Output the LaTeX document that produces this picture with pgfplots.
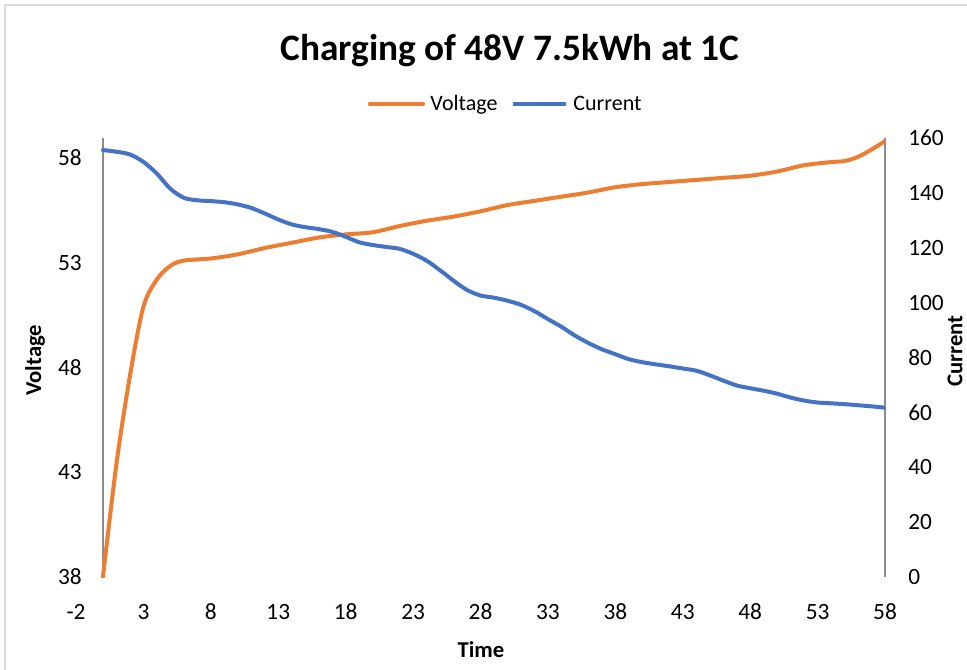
\documentclass[border=0pt]{standalone}
\usepackage{fontspec}
\setmainfont{Carlito}
\usepackage{pgfplots}
\pgfplotsset{compat=1.18}
\definecolor{vcol}{HTML}{ED7D31}
\definecolor{ccol}{HTML}{4472C4}
\definecolor{axgray}{HTML}{8C8C8C}
\definecolor{bordergray}{HTML}{D9D9D9}
\newcommand{\tickfont}{\fontsize{17.5}{20}\selectfont}
\begin{document}
\begin{tikzpicture}
\useasboundingbox (0,0) rectangle (725.25pt,-502.5pt);
\draw[bordergray, line width=1.2pt] (3.75pt,-502.5pt) -- (3.75pt,-3.75pt) -- (725.25pt,-3.75pt);
\begin{axis}[
  at={(57pt,-432.75pt)}, anchor=south west,
  scale only axis, width=606.75pt, height=329.25pt,
  xmin=-2, xmax=58, ymin=38, ymax=58.95,
  xtick={-2,3,...,58}, ytick={38,43,...,58},
  axis x line*=bottom, axis y line*=left,
  axis line style={draw=none},
  major tick length=0pt,
  tick style={draw=none},
  /pgf/number format/assume math mode=true,
  ticklabel style={font=\tickfont},
  yticklabel style={anchor=east, inner sep=0pt, xshift=4.5pt},
  xticklabel style={anchor=north, inner sep=0pt, yshift=-20pt},
  extra x ticks={0,58}, extra x tick labels={},
  extra x tick style={grid=major, major grid style={draw=axgray, line width=1.1pt}},
  xlabel={\bfseries Time},
  xlabel style={font=\fontsize{17}{20}\selectfont, at={(axis description cs:0.5006,-0.166)}, anchor=center},
  ylabel={\bfseries Voltage},
  ylabel style={font=\fontsize{17}{20}\selectfont, at={(axis description cs:-0.0507,0.494)}, anchor=center, rotate=0, inner sep=0pt},
  title={\bfseries Charging of 48V 7.5kWh at 1C},
  title style={font=\fontsize{28}{32}\selectfont, at={(axis description cs:0.5365,1.159)}, anchor=base},
  legend style={draw=none, fill=none, legend columns=2, at={(axis description cs:0.5315,1.0774)}, anchor=center,
    font=\fontsize{16.5}{19}\selectfont, column sep=2pt,
    /tikz/every even column/.append style={column sep=8pt}},
  legend image code/.code={\draw[#1, line width=3pt] (0pt,0pt) -- (40pt,0pt);},
]
\addplot[vcol, line width=3pt, smooth, tension=0.5, line cap=round] coordinates {
(0,38.0) (1,43.4) (2,47.6) (3,50.9) (4,52.2) (5,52.85) (6,53.1) (8,53.2) (10,53.4) (12,53.7)
(14,53.95) (16,54.2) (18,54.35) (20,54.45) (22,54.75) (24,55.0) (26,55.2) (28,55.45) (30,55.75)
(32,55.95) (34,56.15) (36,56.35) (38,56.6) (40,56.75) (42,56.85) (44,56.95) (46,57.05) (48,57.15)
(50,57.35) (52,57.65) (54,57.8) (55,57.85) (56,58.05) (57,58.4) (58,58.8)
};
\addlegendentry{Voltage}
\addlegendimage{ccol, line width=3pt}
\addlegendentry{Current}
\end{axis}
\begin{axis}[
  at={(57pt,-432.75pt)}, anchor=south west,
  scale only axis, width=606.75pt, height=329.25pt,
  xmin=-2, xmax=58, ymin=0, ymax=160,
  xtick=\empty, ytick={0,20,...,160},
  axis x line*=bottom, axis y line*=right,
  axis line style={draw=none},
  major tick length=0pt,
  tick style={draw=none},
  /pgf/number format/assume math mode=true,
  ticklabel style={font=\tickfont},
  yticklabel style={anchor=west, inner sep=0pt, xshift=17.25pt},
  ylabel={\bfseries Current},
  ylabel style={font=\fontsize{17}{20}\selectfont, at={(axis description cs:1.0865,0.515)}, anchor=center, rotate=0, inner sep=0pt},
]
\addplot[ccol, line width=3pt, smooth, tension=0.5, line cap=round] coordinates {
(0,155.6) (1,155.0) (2,154.0) (3,151.3) (4,147) (5,141.5) (6,138.2) (7,137.3) (8,137.0) (9,136.6)
(10,135.8) (11,134.5) (12,132.5) (13,130.3) (14,128.5) (15,127.5) (16,126.8) (17,125.8) (18,124)
(19,122) (20,121) (21,120.3) (22,119.6) (23,117.8) (24,115.3) (25,111.8) (26,108) (27,104.6)
(28,102.6) (29,101.8) (30,100.7) (31,99.2) (32,96.9) (33,94) (34,91.2) (35,88) (36,85.3) (37,83)
(38,81.2) (39,79.4) (40,78.3) (41,77.5) (42,76.8) (43,76) (44,75.2) (45,73.5) (46,71.6) (47,69.8)
(48,68.8) (49,67.9) (50,66.8) (51,65.4) (52,64.3) (53,63.6) (54,63.3) (55,63) (56,62.6) (57,62.2) (58,61.7)
};
\end{axis}
\end{tikzpicture}
\end{document}
